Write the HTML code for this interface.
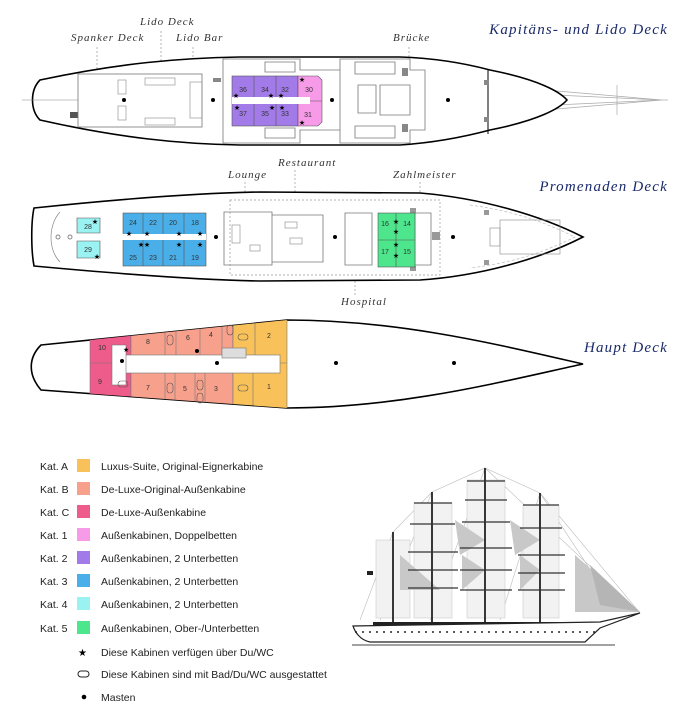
<!DOCTYPE html>
<html><head><meta charset="utf-8"><style>
html,body{margin:0;padding:0;background:#fff;}
svg{display:block}
.lb{font-family:"Liberation Serif",serif;font-style:italic;font-size:11px;fill:#333;letter-spacing:1px}
.tt{font-family:"Liberation Serif",serif;font-style:italic;font-size:15px;fill:#1a2a6a;letter-spacing:1.2px;text-anchor:end}
.lg{font-family:"Liberation Sans",sans-serif;font-size:10.5px;fill:#222}
.n{font-family:"Liberation Sans",sans-serif;font-size:7px;fill:#333;text-anchor:middle}
.d{stroke:#999;stroke-width:.7;stroke-dasharray:2,2;fill:none}
.g{stroke:#777;stroke-width:.8;fill:none}
.h{stroke:#000;stroke-width:1.6;fill:#fff}
</style></head><body>
<svg width="700" height="720" viewBox="0 0 700 720">
<defs>
<clipPath id="c3"><path d="M41,345 L287,320 C400,320 500,345 583,364 C500,382 400,408 287,408 L41,390 C28,375 28,358 41,345Z"/></clipPath>
</defs>
<!-- DECK 1 -->
<text class="lb" x="140" y="25">Lido Deck</text>
<text class="lb" x="71" y="41">Spanker Deck</text>
<text class="lb" x="176" y="41">Lido Bar</text>
<text class="lb" x="393" y="41">Brücke</text>
<text class="tt" x="668" y="34">Kapitäns- und Lido Deck</text>
<path class="d" d="M97,47V105 M161,31V100 M193,47V105 M409,47V100"/>
<g stroke="#aaa" stroke-width=".7" fill="none"><path d="M545,90L662,100L545,110 M555,95L662,100L555,105 M617,85V115"/><line x1="662" y1="100" x2="668" y2="100"/></g>
<path class="h" d="M40,80 C120,63 180,58 240,57 L400,57 C430,58 460,62 490,70 C540,80 560,92 567,100 C560,108 540,120 490,130 C460,138 430,143 400,145 L240,145 C180,144 120,138 40,120 C30,110 30,90 40,80Z"/>
<line x1="22" y1="100" x2="78" y2="100" stroke="#888" stroke-width=".6"/>
<rect x="70" y="112" width="8" height="6" fill="#555"/>
<line x1="488" y1="70" x2="488" y2="134" stroke="#000" stroke-width="1"/>
<rect x="78" y="74" width="124" height="53" class="g"/>
<path class="g" d="M223,59H300V70H340V130H300V143H223Z M340,59H410V70H425V130H410V143H340Z"/>
<path class="g" d="M265,62h30v10h-30z M265,128h30v10h-30z M355,62h40v12h-40z M355,126h40v12h-40z M380,85h30v30h-30z M358,85h18v28h-18z"/>
<g fill="none" stroke="#888" stroke-width=".6"><rect x="145" y="78" width="30" height="7"/><rect x="145" y="118" width="30" height="7"/><rect x="118" y="80" width="8" height="14"/><rect x="118" y="106" width="8" height="14"/><rect x="190" y="82" width="12" height="36"/></g>
<g fill="#888"><rect x="213" y="78" width="8" height="4"/><rect x="402" y="68" width="6" height="8"/><rect x="402" y="124" width="6" height="8"/><rect x="484" y="80" width="5" height="5"/><rect x="484" y="117" width="5" height="5"/></g>
<rect x="232" y="76" width="66" height="50" fill="#a27be8" stroke="#555" stroke-width=".6"/>
<path d="M298,76H318L322,80V122L318,126H298Z" fill="#f79ae8" stroke="#555" stroke-width=".6"/>
<path d="M232,101H322 M254,76V126 M276,76V126" stroke="#555" stroke-width=".6"/>
<rect x="232" y="97" width="78" height="7" fill="#fff"/>
<g class="n"><text x="243" y="92">36</text><text x="265" y="92">34</text><text x="285" y="92">32</text><text x="309" y="92">30</text><text x="243" y="116">37</text><text x="265" y="116">35</text><text x="285" y="116">33</text><text x="308" y="117">31</text></g>
<g font-size="7" font-family="DejaVu Sans" text-anchor="middle"><text x="236" y="98">★</text><text x="271" y="98">★</text><text x="281" y="98">★</text><text x="302" y="82">★</text><text x="237" y="110">★</text><text x="272" y="110">★</text><text x="282" y="110">★</text><text x="302" y="125">★</text></g>
<g fill="#000"><circle cx="124" cy="100" r="2"/><circle cx="213" cy="100" r="2"/><circle cx="332" cy="100" r="2"/><circle cx="448" cy="100" r="2"/></g>
<!-- DECK 2 -->
<text class="lb" x="278" y="166">Restaurant</text>
<text class="lb" x="228" y="178">Lounge</text>
<text class="lb" x="393" y="178">Zahlmeister</text>
<text class="lb" x="341" y="305">Hospital</text>
<text class="tt" x="668" y="191">Promenaden Deck</text>
<path class="d" d="M245,182V212 M295,170V220 M420,182V200 M355,265V296"/>
<path class="h" d="M34,208 C120,199 200,193 260,192 L420,193 C480,198 540,215 583,237 C540,259 480,276 420,280 L260,281 C200,280 120,274 34,266 C31,250 31,222 34,208Z"/>
<path d="M60,212 C48,225 48,250 60,262" fill="none" stroke="#888" stroke-width=".7"/>
<path d="M470,205 C520,212 550,225 575,237 C550,249 520,262 470,268" fill="none" stroke="#bbb" stroke-width=".7" stroke-dasharray="3,2"/>
<path class="d" d="M230,200H440V275H230Z"/>
<path class="g" d="M224,212H272V265H224Z M272,215H323V262H272Z M345,213H372V265H345Z M415,213H431V265H415Z"/>
<g fill="none" stroke="#888" stroke-width=".6"><rect x="285" y="222" width="12" height="6"/><rect x="290" y="238" width="12" height="6"/><rect x="250" y="245" width="10" height="6"/><rect x="232" y="225" width="8" height="18"/><rect x="490" y="228" width="10" height="18"/><rect x="500" y="220" width="60" height="34"/></g>
<g fill="#999"><rect x="410" y="208" width="6" height="5"/><rect x="410" y="266" width="6" height="5"/><rect x="432" y="232" width="8" height="8"/><rect x="484" y="210" width="5" height="5"/><rect x="484" y="260" width="5" height="5"/></g>
<circle cx="58" cy="237" r="2" fill="none" stroke="#888"/><circle cx="70" cy="237" r="2" fill="none" stroke="#888"/>
<path d="M77,218H100V233H77Z M77,241H100V258H77Z" fill="#9af2f2" stroke="#555" stroke-width=".6"/>
<rect x="123" y="213" width="83" height="53" fill="#4aaee8" stroke="#555" stroke-width=".6"/>
<path d="M123,239H206 M143,213V266 M163,213V266 M184,213V266" stroke="#555" stroke-width=".6"/>
<rect x="100" y="234" width="106" height="6" fill="#fff"/>
<rect x="378" y="213" width="37" height="54" fill="#4ee68c" stroke="#555" stroke-width=".6"/>
<path d="M378,240H415 M396,213V267" stroke="#555" stroke-width=".6"/>
<g class="n"><text x="88" y="229">28</text><text x="88" y="252">29</text><text x="133" y="225">24</text><text x="153" y="225">22</text><text x="173" y="225">20</text><text x="195" y="225">18</text><text x="133" y="260">25</text><text x="153" y="260">23</text><text x="173" y="260">21</text><text x="195" y="260">19</text><text x="385" y="226">16</text><text x="407" y="226">14</text><text x="385" y="254">17</text><text x="407" y="254">15</text></g>
<g font-size="7" font-family="DejaVu Sans" text-anchor="middle"><text x="95" y="224">★</text><text x="97" y="259">★</text><text x="129" y="236">★</text><text x="147" y="236">★</text><text x="179" y="236">★</text><text x="200" y="236">★</text><text x="141" y="247">★</text><text x="147" y="247">★</text><text x="179" y="247">★</text><text x="200" y="247">★</text><text x="396" y="224">★</text><text x="396" y="234">★</text><text x="396" y="247">★</text><text x="396" y="258">★</text></g>
<g fill="#000"><circle cx="216" cy="237" r="2"/><circle cx="335" cy="237" r="2"/><circle cx="453" cy="237" r="2"/></g>
<!-- DECK 3 -->
<text class="tt" x="668" y="352">Haupt Deck</text>
<path class="h" d="M41,345 L287,320 C400,320 500,345 583,364 C500,382 400,408 287,408 L41,390 C28,375 28,358 41,345Z"/>
<g clip-path="url(#c3)" stroke="#777" stroke-width=".6">
<rect x="90" y="310" width="41" height="100" fill="#ee5c8c"/>
<rect x="131" y="310" width="102" height="100" fill="#f7a08c"/>
<rect x="233" y="310" width="54" height="100" fill="#f8c15a"/>
<path d="M90,363H131 M165,310V355 M176,310V355 M200,310V355 M222,310V355 M255,310V355 M165,372V410 M175,372V410 M195,372V410 M205,372V410 M253,372V410 M233,363H287" fill="none"/>
<rect x="115" y="355" width="165" height="18" fill="#fff"/>
<rect x="112" y="345" width="14" height="40" fill="#fff"/>
<rect x="222" y="348" width="24" height="10" fill="#ddd"/>
</g>
<g class="n" font-size="7"><text x="102" y="350">10</text><text x="100" y="384">9</text><text x="148" y="344">8</text><text x="188" y="340">6</text><text x="211" y="337">4</text><text x="269" y="338">2</text><text x="148" y="390">7</text><text x="185" y="391">5</text><text x="216" y="391">3</text><text x="269" y="389">1</text></g>
<g fill="none" stroke="#555" stroke-width=".6"><rect x="167" y="335" width="6" height="10" rx="3"/><rect x="167" y="383" width="6" height="10" rx="3"/><rect x="197" y="380" width="6" height="10" rx="3"/><rect x="197" y="393" width="6" height="10" rx="3"/><rect x="227" y="325" width="6" height="10" rx="3"/><rect x="238" y="334" width="10" height="6" rx="3"/><rect x="238" y="385" width="10" height="6" rx="3"/><rect x="118" y="381" width="10" height="6" rx="3"/></g>
<g fill="#000"><circle cx="217" cy="363" r="2"/><circle cx="336" cy="363" r="2"/><circle cx="454" cy="363" r="2"/><circle cx="122" cy="361" r="2"/><circle cx="197" cy="351" r="2"/></g>
<g font-size="7" font-family="DejaVu Sans"><text x="123" y="352">★</text></g>
<!-- LEGEND -->
<g class="lg">
<text x="40" y="470">Kat. A</text><text x="40" y="493">Kat. B</text><text x="40" y="516">Kat. C</text><text x="40" y="539">Kat. 1</text><text x="40" y="562">Kat. 2</text><text x="40" y="585">Kat. 3</text><text x="40" y="608">Kat. 4</text><text x="40" y="632">Kat. 5</text>
<text x="101" y="470">Luxus-Suite, Original-Eignerkabine</text>
<text x="101" y="493">De-Luxe-Original-Außenkabine</text>
<text x="101" y="516">De-Luxe-Außenkabine</text>
<text x="101" y="539">Außenkabinen, Doppelbetten</text>
<text x="101" y="562">Außenkabinen, 2 Unterbetten</text>
<text x="101" y="585">Außenkabinen, 2 Unterbetten</text>
<text x="101" y="608">Außenkabinen, 2 Unterbetten</text>
<text x="101" y="632">Außenkabinen, Ober-/Unterbetten</text>
<text x="101" y="656">Diese Kabinen verfügen über Du/WC</text>
<text x="101" y="678">Diese Kabinen sind mit Bad/Du/WC ausgestattet</text>
<text x="101" y="701">Masten</text>
</g>
<rect x="77" y="459" width="13" height="13" fill="#f8c15a"/>
<rect x="77" y="482" width="13" height="13" fill="#f7a08c"/>
<rect x="77" y="505" width="13" height="13" fill="#ee5c8c"/>
<rect x="77" y="528" width="13" height="13" fill="#f79ae8"/>
<rect x="77" y="551" width="13" height="13" fill="#a27be8"/>
<rect x="77" y="574" width="13" height="13" fill="#4aaee8"/>
<rect x="77" y="597" width="13" height="13" fill="#9af2f2"/>
<rect x="77" y="621" width="13" height="13" fill="#4ee68c"/>
<text x="78" y="656" font-family="DejaVu Sans" font-size="10">★</text>
<rect x="78" y="671" width="11" height="6" rx="3" fill="none" stroke="#222" stroke-width="1"/>
<circle cx="84" cy="697" r="2.3" fill="#000"/>
<!-- SHIP -->
<g stroke="#bbb" stroke-width=".6" fill="none">
<path d="M360,620L393,532 L432,492 L485,468 L540,493 L640,613 M393,532L360,620 M432,492L380,620 M485,468L430,620 M540,493L500,620 M485,468L640,613 M540,493L610,600"/>
</g>
<g fill="#f2f2f2" stroke="#ccc" stroke-width=".6">
<rect x="376" y="540" width="34" height="78"/>
<rect x="414" y="503" width="38" height="115"/>
<rect x="467" y="480" width="38" height="138"/>
<rect x="523" y="505" width="36" height="113"/>
</g>
<g fill="#c8c8c8">
<path d="M400,555L440,590L400,590Z"/><path d="M455,520L485,540L460,555Z"/><path d="M510,520L540,540L515,555Z"/>
<path d="M575,555L640,612L575,612Z"/><path d="M590,565L640,612L600,605Z" fill="#b5b5b5"/>
<path d="M462,555L485,570L462,590Z"/><path d="M520,555L540,570L520,590Z"/>
</g>
<g stroke="#222" stroke-width="1.8">
<line x1="393" y1="532" x2="393" y2="622"/><line x1="432" y1="492" x2="432" y2="622"/><line x1="485" y1="468" x2="485" y2="622"/><line x1="540" y1="493" x2="540" y2="622"/>
</g>
<g stroke="#333" stroke-width="1.3">
<line x1="414" y1="503" x2="452" y2="503"/><line x1="410" y1="524" x2="455" y2="524"/><line x1="408" y1="552" x2="458" y2="552"/><line x1="408" y1="570" x2="458" y2="570"/><line x1="408" y1="588" x2="458" y2="588"/>
<line x1="467" y1="481" x2="505" y2="481"/><line x1="465" y1="500" x2="507" y2="500"/><line x1="462" y1="522" x2="510" y2="522"/><line x1="460" y1="548" x2="512" y2="548"/><line x1="460" y1="570" x2="512" y2="570"/><line x1="460" y1="590" x2="512" y2="590"/>
<line x1="523" y1="505" x2="559" y2="505"/><line x1="520" y1="528" x2="562" y2="528"/><line x1="518" y1="555" x2="565" y2="555"/><line x1="518" y1="573" x2="565" y2="573"/><line x1="518" y1="590" x2="565" y2="590"/>
</g>
<rect x="367" y="571" width="6" height="4" fill="#222"/>
<rect x="373" y="622" width="200" height="6" fill="#222"/>
<path d="M353,626 L600,622 L640,613 L600,628 L585,642 L370,642 C360,640 355,632 353,626Z" fill="#fff" stroke="#222" stroke-width="1.2"/>
<line x1="355" y1="632" x2="600" y2="632" stroke="#222" stroke-width="1.5" stroke-dasharray="2,5"/>
<line x1="352" y1="645" x2="615" y2="645" stroke="#444" stroke-width="1"/>
</svg>
</body></html>
